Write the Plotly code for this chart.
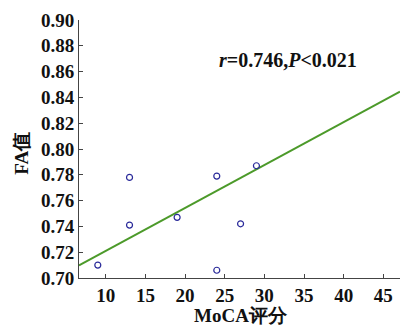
import plotly.graph_objects as go

moca = [9, 13, 13, 19, 24, 24, 27, 29]
fa = [0.710, 0.778, 0.741, 0.747, 0.779, 0.706, 0.742, 0.787]
fit_x = [6.63, 47.1]
fit_y = [0.7097, 0.8445]
x_ticks = [10, 15, 20, 25, 30, 35, 40, 45]
y_ticks = [0.70, 0.72, 0.74, 0.76, 0.78, 0.80, 0.82, 0.84, 0.86, 0.88, 0.90]

font_family = "Liberation Serif"
txt = "#111"

fig = go.Figure()
fig.add_trace(go.Scatter(x=fit_x, y=fit_y, mode="lines",
                         line=dict(color="#4c9a2a", width=2), showlegend=False, cliponaxis=False))
fig.add_trace(go.Scatter(x=moca, y=fa, mode="markers",
                         marker=dict(symbol="circle-open", size=6, color="#2a2a9a", line=dict(width=1.2)),
                         showlegend=False, cliponaxis=False))

fig.add_annotation(x=0.430, y=0.845, xref="paper", yref="paper", xanchor="left", yanchor="middle",
                   text="<i>r</i>=0.746,<i>P</i><0.021", showarrow=False,
                   font=dict(family=font_family, size=20, color=txt, weight="bold"))
fig.add_annotation(x=0.505, y=-0.147, xref="paper", yref="paper", xanchor="center", yanchor="middle",
                   text="MoCA评分", showarrow=False,
                   font=dict(family=font_family, size=19, color=txt, weight="bold"))
fig.add_annotation(x=-0.178, y=0.485, xref="paper", yref="paper", xanchor="center", yanchor="middle",
                   text="FA值", showarrow=False, textangle=-90,
                   font=dict(family=font_family, size=19, color=txt, weight="bold"))

fig.update_xaxes(range=[6.63, 47.1], tickvals=x_ticks, ticktext=[str(v) for v in x_ticks],
                 ticks="inside", ticklen=4, tickcolor="#444", showline=True, linecolor="#444",
                 showgrid=False, zeroline=False, automargin=False,
                 tickfont=dict(family=font_family, size=19, color=txt, weight="bold"))
fig.update_yaxes(range=[0.70, 0.90], tickvals=y_ticks, ticktext=["%.2f" % v for v in y_ticks],
                 ticks="inside", ticklen=4, tickcolor="#444", showline=True, linecolor="#444",
                 showgrid=False, zeroline=False, automargin=False,
                 tickfont=dict(family=font_family, size=19, color=txt, weight="bold"))

fig.update_layout(width=400, height=326, margin=dict(l=79, r=0, t=20, b=48),
                  plot_bgcolor="white", paper_bgcolor="white",
                  font=dict(family=font_family, size=19, color=txt))

fig.write_html("out.html", config={"displayModeBar": False},
               post_script="document.body.style.margin='0';document.body.style.overflow='hidden';")
